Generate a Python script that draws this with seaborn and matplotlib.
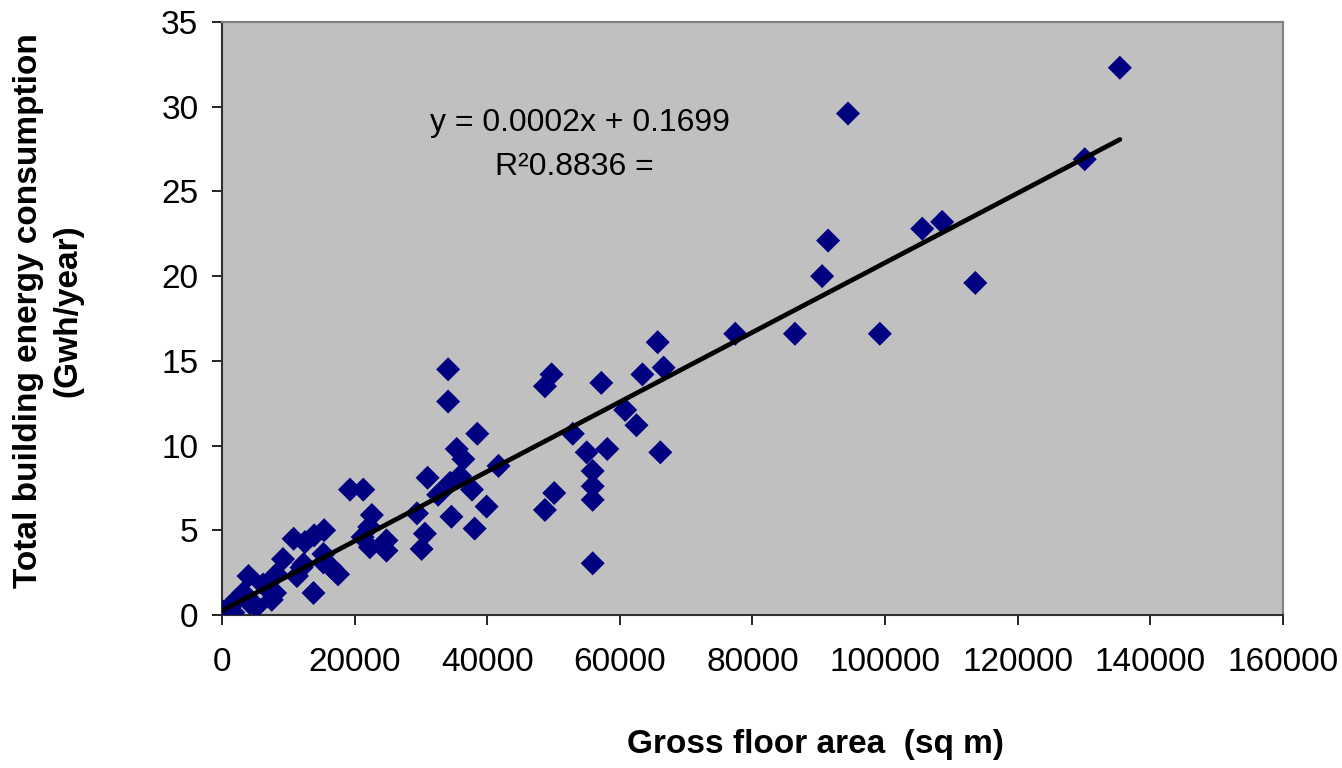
import matplotlib
matplotlib.use("Agg")
import matplotlib.pyplot as plt
import seaborn as sns
import pandas as pd
import numpy as np

# Gross floor area (sq m)
floor_area = [
    200, 700, 1200, 1700, 2200, 3200, 4000, 4200, 5200, 6200,
    7500, 8000, 8200, 9200, 10800, 11300, 12000, 12300, 12500, 13800,
    13900, 15300, 15300, 15400, 16500, 17500, 19300, 21300, 21200, 22300,
    22200, 22600, 24800, 24800,
    29400, 30100, 30600, 31000, 32600, 34100, 34100, 34400, 34600, 35400,
    35900, 36400, 37700, 38100, 38500, 39900, 41700,
    48700, 48700, 49700, 50100, 52900, 55000, 55900, 55900, 55900, 55900,
    57200, 58100, 60800, 62500, 63400, 65700, 66100, 66600,
    77400, 86400, 90500, 91400, 94400, 99200, 105600, 108600, 113600,
    130100, 135400,
]
# Total building energy consumption (Gwh/year)
energy = [
    0.2, 0.05, 0.5, 0.15, 0.9, 1.3, 2.3, 0.7, 0.5, 1.8,
    0.9, 1.3, 2.4, 3.3, 4.5, 2.3, 2.8, 3.0, 4.3, 1.3,
    4.7, 3.6, 3.1, 5.0, 2.8, 2.4, 7.4, 7.4, 4.6, 4.0,
    5.2, 5.9, 4.4, 3.8,
    6.0, 3.9, 4.8, 8.1, 7.1, 12.6, 14.5, 7.8, 5.8, 9.8,
    8.2, 9.2, 7.4, 5.1, 10.7, 6.4, 8.8,
    6.2, 13.5, 14.2, 7.2, 10.7, 9.6, 8.5, 7.6, 6.8, 3.05,
    13.7, 9.8, 12.1, 11.2, 14.2, 16.1, 9.6, 14.6,
    16.6, 16.6, 20.0, 22.1, 29.6, 16.6, 22.8, 23.2, 19.6,
    26.9, 32.3,
]

x_ticks = [0, 20000, 40000, 60000, 80000, 100000, 120000, 140000, 160000]
y_ticks = [0, 5, 10, 15, 20, 25, 30, 35]

equation_text = "y = 0.0002x + 0.1699"
r2_text = "R\u00b20.8836 ="

df = pd.DataFrame({"area": floor_area, "energy": energy})

sns.set_theme(style="white")
plt.rcParams["font.family"] = ["Liberation Sans", "DejaVu Sans"]
plt.rcParams["text.color"] = "black"
plt.rcParams["axes.labelcolor"] = "black"

fig = plt.figure(figsize=(13.42, 7.68), dpi=100)
ax = fig.add_axes([222 / 1342, 1 - 615 / 768, (1283 - 222) / 1342, (615 - 22) / 768])
ax.set_facecolor("#C0C0C0")

sns.scatterplot(data=df, x="area", y="energy", marker="D", s=150,
                color="#000080", edgecolor="none", linewidth=0, ax=ax, zorder=3)
sns.regplot(data=df, x="area", y="energy", scatter=False, ci=None, truncate=True,
            line_kws=dict(color="black", lw=3.4, zorder=4), ax=ax)

ax.set_xlim(0, 160000)
ax.set_ylim(0, 35)
ax.set_xticks(x_ticks)
ax.set_yticks(y_ticks)
ax.set_xticklabels([str(v) for v in x_ticks])
ax.set_yticklabels([str(v) for v in y_ticks])
ax.tick_params(axis="both", direction="out", length=7, width=1.2, color="black",
               labelsize=24, labelcolor="black")
ax.tick_params(axis="x", pad=16, bottom=True)
ax.tick_params(axis="y", pad=10, left=True)

for side in ["top", "right"]:
    ax.spines[side].set_color("#808080")
    ax.spines[side].set_linewidth(1.5)
for side in ["left", "bottom"]:
    ax.spines[side].set_color("#303030")
    ax.spines[side].set_linewidth(1.5)

ax.set_xlabel("Gross floor area  (sq m)", fontsize=24, fontweight="bold", color="black")
ax.xaxis.set_label_coords((815 - 222) / 1061, -(745 - 615) / 593)
ax.xaxis.label.set_va("center")
ax.set_ylabel("Total building energy consumption\n(Gwh/year)", fontsize=24,
              fontweight="bold", color="black", linespacing=1.35)
ax.yaxis.set_label_coords(-(222 - 48) / 1061, (615 - 311) / 593)
ax.yaxis.label.set_va("center")

ax.text((580 - 222) / 1061, (615 - 123) / 593, equation_text, transform=ax.transAxes,
        fontsize=23, ha="center", va="center")
ax.text((574 - 222) / 1061, (615 - 167) / 593, r2_text, transform=ax.transAxes,
        fontsize=23, ha="center", va="center")

fig.savefig("out.png", dpi=100, facecolor="white")
